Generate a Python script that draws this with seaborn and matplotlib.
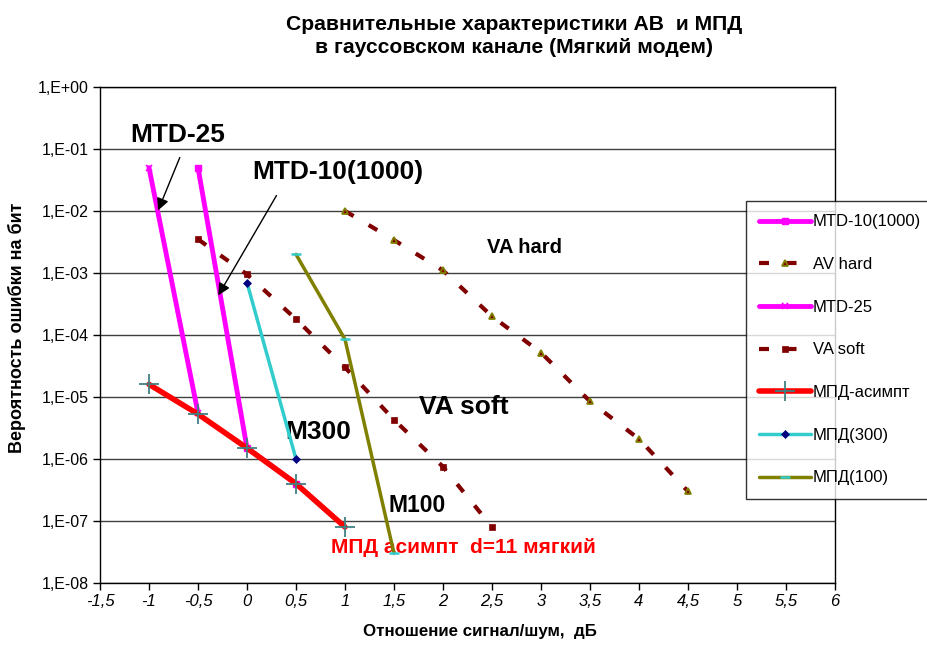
import matplotlib
matplotlib.use("Agg")
import matplotlib.pyplot as plt
import seaborn as sns
import pandas as pd
import numpy as np

# ---- data ----
mtd25_x = [-1.0, -0.5]
mtd25_y = [5.0e-2, 5.5e-6]
mtd10_x = [-0.5, 0.0, 0.5]
mtd10_y = [5.0e-2, 1.5e-6, 4.0e-7]
asym_x = [-1.0, -0.5, 0.0, 0.5, 1.0]
asym_y = [1.6e-5, 5.3e-6, 1.5e-6, 4.0e-7, 8.0e-8]
m300_x = [0.0, 0.5]
m300_y = [7.0e-4, 1.0e-6]
m100_x = [0.5, 1.0, 1.5]
m100_y = [2.0e-3, 8.5e-5, 3.0e-8]
vasoft_x = [-0.5, 0.0, 0.5, 1.0, 1.5, 2.0, 2.5]
vasoft_y = [3.5e-3, 9.5e-4, 1.8e-4, 3.0e-5, 4.3e-6, 7.5e-7, 8.0e-8]
avhard_x = [1.0, 1.5, 2.0, 2.5, 3.0, 3.5, 4.0, 4.5]
avhard_y = [1.0e-2, 3.4e-3, 1.1e-3, 2.0e-4, 5.2e-5, 8.5e-6, 2.1e-6, 3.0e-7]

x_ticks = [-1.5, -1, -0.5, 0, 0.5, 1, 1.5, 2, 2.5, 3, 3.5, 4, 4.5, 5, 5.5, 6]
x_labels = ["-1,5", "-1", "-0,5", "0", "0,5", "1", "1,5", "2", "2,5", "3",
            "3,5", "4", "4,5", "5", "5,5", "6"]
y_ticks = [1e0, 1e-1, 1e-2, 1e-3, 1e-4, 1e-5, 1e-6, 1e-7, 1e-8]
y_labels = ["1,E+00", "1,E-01", "1,E-02", "1,E-03", "1,E-04", "1,E-05",
            "1,E-06", "1,E-07", "1,E-08"]

title = "Сравнительные характеристики АВ  и МПД\nв гауссовском канале (Мягкий модем)"
xlabel = "Отношение сигнал/шум,  дБ"
ylabel = "Вероятность ошибки на бит"

sns.set_theme(style="white")
plt.rcParams['font.family'] = ['Liberation Sans', 'DejaVu Sans']
plt.rcParams['text.color'] = 'black'
plt.rcParams['axes.labelcolor'] = 'black'

fig = plt.figure(figsize=(9.28, 6.45), dpi=100)
ax = fig.add_axes([100/928, 1-583/645, 735/928, 496/645])
ax.set_yscale("log")

def df(x, y):
    return pd.DataFrame({"x": x, "y": y})

DR = "#800000"
DASH = (0, (2.4, 4.2))
sns.lineplot(data=df(mtd10_x, mtd10_y), x="x", y="y", ax=ax, color="#FF00FF",
             lw=3.5, marker="s", ms=5, mec="#FF00FF", mew=1, label="MTD-10(1000)", zorder=3)
sns.lineplot(data=df(avhard_x, avhard_y), x="x", y="y", ax=ax, color=DR,
             lw=3, linestyle=DASH, marker="^", ms=5, mfc=DR,
             mec="#808000", mew=1.3, label="AV hard", zorder=3)
sns.lineplot(data=df(mtd25_x, mtd25_y), x="x", y="y", ax=ax, color="#FF00FF",
             lw=3.5, marker="x", ms=5, mec="#FF00FF", mew=1.2, label="MTD-25", zorder=3)
sns.lineplot(data=df(vasoft_x, vasoft_y), x="x", y="y", ax=ax, color=DR,
             lw=3, linestyle=DASH, marker="s", ms=5, mfc=DR,
             mec=DR, mew=0.5, label="VA soft", zorder=3)
sns.lineplot(data=df(asym_x, asym_y), x="x", y="y", ax=ax, color="#FF0000",
             lw=4, marker="+", ms=14, mec="#408080", mew=1.3, label="МПД-асимпт", zorder=4)
sns.lineplot(data=df(m300_x, m300_y), x="x", y="y", ax=ax, color="#33CCCC",
             lw=2.5, marker="D", ms=4.5, mec="#000080", mfc="#000080", mew=0.5,
             label="МПД(300)", zorder=4)
sns.lineplot(data=df(m100_x, m100_y), x="x", y="y", ax=ax, color="#808000",
             lw=2.5, marker="_", ms=7, mec="#33CCCC", mew=1.8, label="МПД(100)", zorder=4)

ax.set_xlim(-1.5, 6)
ax.set_ylim(1e-8, 1e0)
ax.set_xticks(x_ticks)
ax.set_xticklabels(x_labels, fontstyle="italic", fontsize=12)
ax.set_yticks(y_ticks)
ax.set_yticklabels(y_labels, fontsize=11.5)
ax.minorticks_off()
ax.tick_params(axis="both", which="major", direction="out", length=5, width=1,
               color="black", bottom=True, left=True, pad=3, labelcolor="black")
ax.yaxis.grid(True, which="major", color="#404040", lw=1)
ax.xaxis.grid(False)
for s in ax.spines.values():
    s.set_visible(True)
    s.set_color("black")
    s.set_linewidth(1)

ax.set_xlabel(xlabel, fontsize=12.2, fontweight="bold")
ax.set_ylabel(ylabel, fontsize=13, fontweight="bold")
ax.xaxis.set_label_coords(0.517, -0.083)
ax.yaxis.set_label_coords(-0.101, 0.514)
fig.text(514/928, 1-36/645, title, ha="center", va="center", fontsize=15.2,
         fontweight="bold", linespacing=1.33)

# annotations
ax.text(0.106, 0.903, "MTD-25", transform=ax.transAxes, ha="center", va="center",
        fontsize=19, fontweight="bold")
ax.text(0.324, 0.829, "MTD-10(1000)", transform=ax.transAxes, ha="center", va="center",
        fontsize=19, fontweight="bold")
ax.annotate("", xy=(0.0776, 0.746), xytext=(0.110, 0.863), xycoords="axes fraction",
            textcoords="axes fraction",
            arrowprops=dict(arrowstyle="-|>", color="black", lw=1, mutation_scale=18))
ax.annotate("", xy=(0.159, 0.575), xytext=(0.242, 0.786), xycoords="axes fraction",
            textcoords="axes fraction",
            arrowprops=dict(arrowstyle="-|>", color="black", lw=1, mutation_scale=18))
ax.text(0.577, 0.677, "VA hard", transform=ax.transAxes, ha="center", va="center",
        fontsize=14.5, fontweight="bold")
ax.text(0.495, 0.355, "VA soft", transform=ax.transAxes, ha="center", va="center",
        fontsize=19, fontweight="bold")
ax.text(0.297, 0.304, "M300", transform=ax.transAxes, ha="center", va="center",
        fontsize=19, fontweight="bold")
ax.text(0.431, 0.157, "M100", transform=ax.transAxes, ha="center", va="center",
        fontsize=16.5, fontweight="bold")
ax.text(0.494, 0.071, "МПД асимпт  d=11 мягкий", transform=ax.transAxes, ha="center",
        va="center", fontsize=15, fontweight="bold", color="#FF0000")

handles, labels = ax.get_legend_handles_labels()
leg = ax.legend(handles, labels, loc="upper left",
                bbox_to_anchor=(746/928, 1-201/645), bbox_transform=fig.transFigure,
                frameon=True, fancybox=False, edgecolor="black", fontsize=12,
                handlelength=3.1, labelspacing=1.66, borderpad=0.8,
                handletextpad=0.1, borderaxespad=0, labelcolor="black")
leg.get_frame().set_linewidth(1)
leg.set_zorder(10)

fig.savefig("out.png", dpi=100, facecolor="white")
